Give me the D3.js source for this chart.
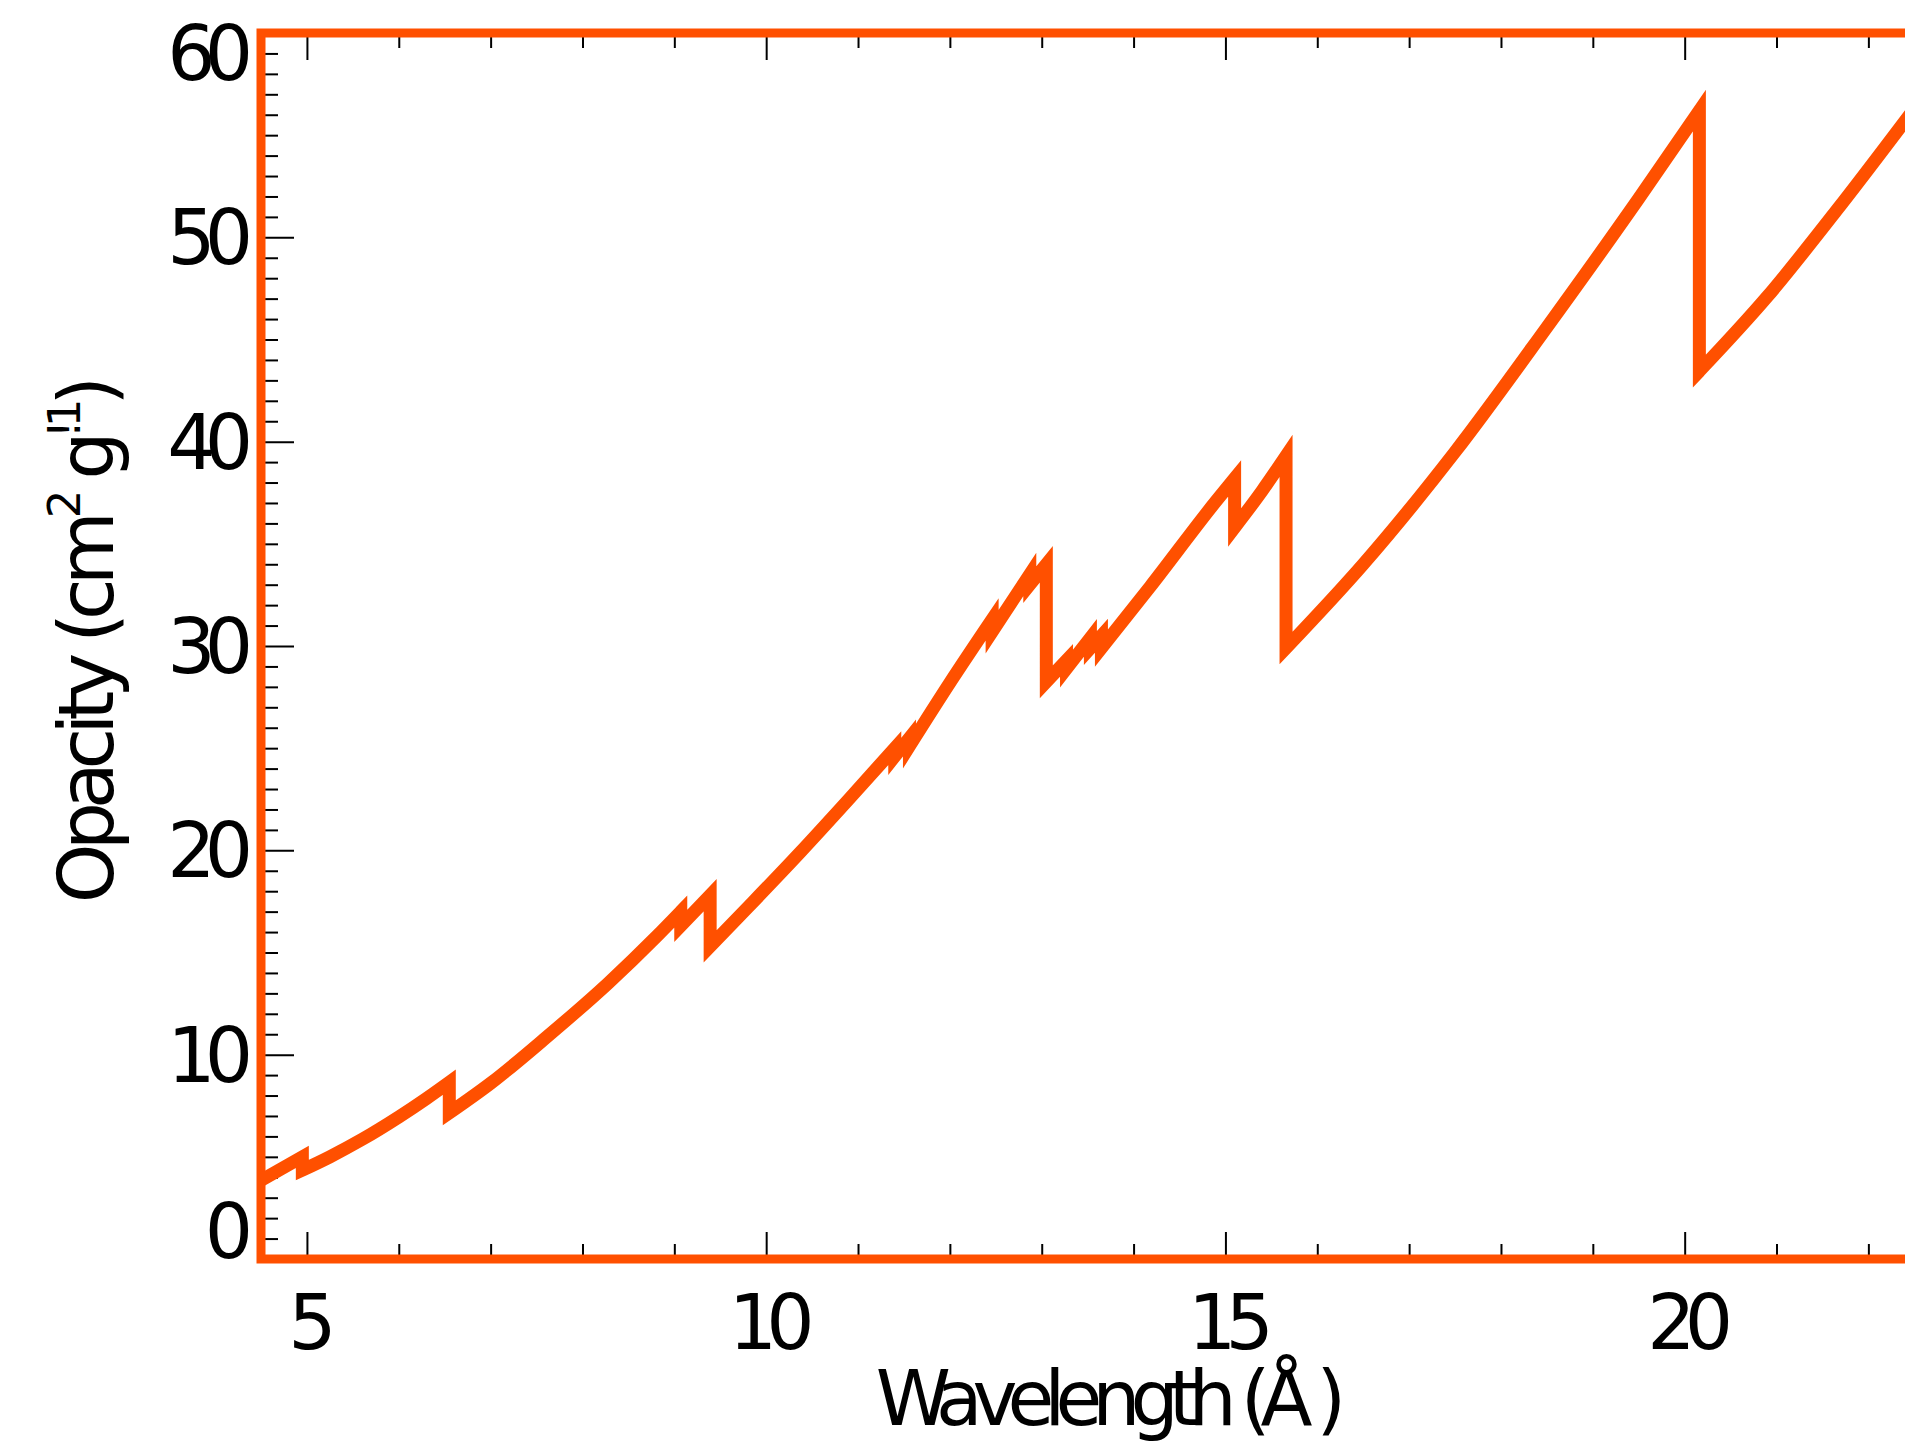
<!DOCTYPE html>
<html>
<head>
<meta charset="utf-8">
<script src="https://cdn.jsdelivr.net/npm/d3@7"></script>
<style>
    body { margin: 0; background: #fff; }
    svg { display: block; }
    text { font-family: "DejaVu Sans", sans-serif; fill: #000; }
    .tick line { stroke: #000; stroke-width: 2; }
</style>
</head>
<body>
<svg id="chart" width="1905" height="1443"></svg>
<script>
// opacity curve, vertical jumps are the absorption edges (same wavelength twice)
const wavelength = [4.50, 4.95, 4.95, 5.25, 5.60, 6.00, 6.30, 6.55, 6.55, 7.00, 7.62, 8.28,
    8.81, 9.07, 9.07, 9.39, 9.39, 9.82, 10.37, 10.90, 11.40, 11.40, 11.56, 11.56, 12.00,
    12.46, 12.46, 12.87, 12.87, 13.05, 13.05, 13.27, 13.27, 13.53, 13.53, 13.65, 13.65,
    14.18, 14.90, 15.10, 15.10, 15.40, 15.66, 15.66, 16.50, 17.50, 18.50, 19.50, 20.16,
    20.16, 20.90, 21.65, 22.50];
const opacity = [3.85, 5.00, 4.35, 5.00, 5.85, 6.95, 7.85, 8.65, 7.15, 8.60, 10.90, 13.50,
    15.80, 17.00, 16.30, 17.80, 15.30, 17.30, 19.90, 22.50, 25.00, 24.60, 25.50, 25.10, 28.20,
    31.30, 30.70, 33.50, 33.00, 34.00, 28.25, 29.30, 28.90, 30.40, 29.90, 30.50, 29.90,
    32.90, 37.10, 38.20, 35.80, 37.60, 39.30, 29.90, 34.00, 39.50, 45.60, 51.90, 56.20,
    43.45, 47.10, 51.30, 56.30];

const xMajorTicks = [5, 10, 15, 20];
const yMajorTicks = [0, 10, 20, 30, 40, 50, 60];
const xLabels = ["5", "10", "15", "20"];
const yLabels = ["0", "10", "20", "30", "40", "50", "60"];

const orange = "#ff5000";
const svg = d3.select("#chart");

let x = d3.scaleLinear().domain([4.5, 23]).range([261, 261 + 18.5 * 91.85]);
let y = d3.scaleLinear().domain([0, 60]).range([1259, 33]);

let xMinor = d3.range(5, 24).filter(v => xMajorTicks.indexOf(v) < 0);
let yMinor = d3.range(0, 61).filter(v => yMajorTicks.indexOf(v) < 0);

function addAxis(axis, tx, ty) {
    let g = svg.append("g")
        .attr("transform", "translate(" + tx + "," + ty + ")")
        .call(axis);
    g.select(".domain").remove();
    return g;
}

// ticks point inward on all four sides
addAxis(d3.axisBottom(x).tickValues(xMinor).tickSize(-15).tickFormat(""), 0, y(0));
addAxis(d3.axisBottom(x).tickValues(xMajorTicks).tickSize(-27).tickFormat(""), 0, y(0));
addAxis(d3.axisTop(x).tickValues(xMinor).tickSize(-15).tickFormat(""), 0, y(60));
addAxis(d3.axisTop(x).tickValues(xMajorTicks).tickSize(-27).tickFormat(""), 0, y(60));
addAxis(d3.axisLeft(y).tickValues(yMinor).tickSize(-17).tickFormat(""), x(4.5), 0);
addAxis(d3.axisLeft(y).tickValues(yMajorTicks).tickSize(-33).tickFormat(""), x(4.5), 0);
addAxis(d3.axisRight(y).tickValues(yMinor).tickSize(-17).tickFormat(""), x(23), 0);
addAxis(d3.axisRight(y).tickValues(yMajorTicks).tickSize(-33).tickFormat(""), x(23), 0);

// frame
svg.append("rect")
    .attr("x", x(4.5))
    .attr("y", y(60))
    .attr("width", x(23) - x(4.5))
    .attr("height", y(0) - y(60))
    .attr("fill", "none")
    .attr("stroke", orange)
    .attr("stroke-width", 9);

// tick labels
svg.selectAll("text.xlab")
    .data(xMajorTicks)
    .enter().append("text")
    .attr("class", "xlab")
    .attr("x", d => x(d))
    .attr("y", 1349)
    .attr("text-anchor", "middle")
    .style("font-size", "76px")
    .style("letter-spacing", "-11px")
    .text((d, i) => xLabels[i]);

svg.selectAll("text.ylab")
    .data(yMajorTicks)
    .enter().append("text")
    .attr("class", "ylab")
    .attr("x", 242)
    .attr("y", d => Math.min(Math.max(y(d) + 27, 80), 1258))
    .attr("text-anchor", "end")
    .style("font-size", "76px")
    .style("letter-spacing", "-11px")
    .text((d, i) => yLabels[i]);

// axis titles
svg.append("text")
    .attr("x", 1106)
    .attr("y", 1425)
    .attr("text-anchor", "middle")
    .style("font-size", "76px")
    .style("letter-spacing", "-10px")
    .text("Wavelength (Å )");

let yTitle = svg.append("text")
    .attr("transform", "translate(113,643) rotate(-90)")
    .attr("text-anchor", "middle")
    .style("font-size", "76px")
    .style("letter-spacing", "-7px");
yTitle.append("tspan").text("Opacity (cm");
yTitle.append("tspan").attr("dy", -33).style("font-size", "45px").text("2");
yTitle.append("tspan").attr("dy", 33).text(" g");
yTitle.append("tspan").attr("dy", -33).style("font-size", "45px").text("!1");
yTitle.append("tspan").attr("dy", 33).text(")");

// data line: smooth pieces between edges, joined by straight vertical drops
let points = wavelength.map((w, i) => [w, opacity[i]]);
let runs = [];
let cur = [points[0]];
for (let i = 1; i < points.length; i++) {
    if (points[i][0] === points[i - 1][0]) {
        runs.push(cur);
        cur = [points[i]];
    } else {
        cur.push(points[i]);
    }
}
runs.push(cur);

let smooth = d3.line()
    .x(d => x(d[0]))
    .y(d => y(d[1]))
    .curve(d3.curveMonotoneX);

let pathD = runs.map(function (r, i) {
    let s = smooth(r);
    return i === 0 ? s : "L" + s.slice(1);
}).join("");

svg.append("path")
    .attr("d", pathD)
    .attr("fill", "none")
    .attr("stroke", orange)
    .attr("stroke-width", 13)
    .attr("stroke-linejoin", "miter")
    .attr("stroke-miterlimit", 10);
</script>
</body>
</html>
